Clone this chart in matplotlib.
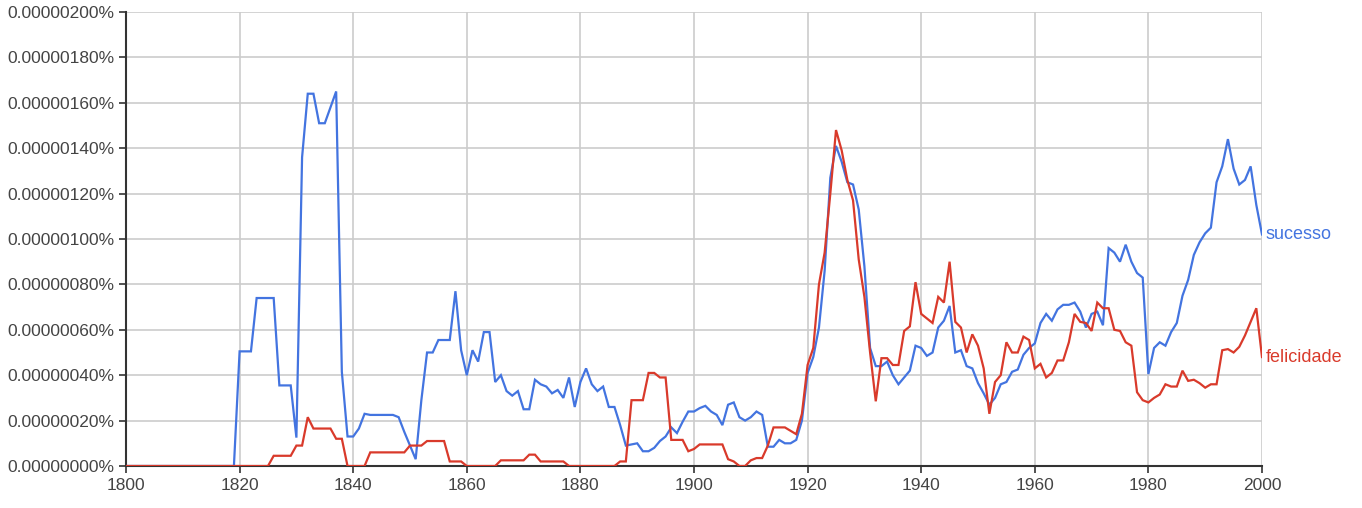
import numpy as np
import matplotlib
matplotlib.use("Agg")
import matplotlib.pyplot as plt
from matplotlib.ticker import FuncFormatter, MultipleLocator

plt.rcParams['font.family'] = ['Liberation Sans', 'DejaVu Sans']

# values in units of 1e-8 % (so 20 -> 0.00000020%)
years = list(range(1800, 2001))

sucesso = (
    [0] * 20 +                                                         # 1800-1819
    [50.5, 50.5, 50.5, 74, 74, 74, 74, 35.5, 35.5, 35.5] +             # 1820s
    [12.5, 136, 164, 164, 151, 151, 158, 165, 41.5, 13] +              # 1830s
    [13, 16.5, 23, 22.5, 22.5, 22.5, 22.5, 22.5, 21.5, 15] +           # 1840s
    [9, 3, 29, 50, 50, 55.5, 55.5, 55.5, 77, 51] +                     # 1850s
    [40, 51, 46, 59, 59, 37, 40, 33, 31, 33] +                         # 1860s
    [25, 25, 38, 36, 35, 32, 33.5, 30, 39, 26] +                       # 1870s
    [37, 43, 36, 33, 35, 26, 26, 18, 9, 9.5] +                         # 1880s
    [10, 6.5, 6.5, 8, 11, 13, 17, 14.5, 19.5, 24] +                    # 1890s
    [24, 25.5, 26.5, 24, 22.5, 18, 27, 28, 21.5, 20] +                 # 1900s
    [21.5, 24, 22.5, 8.5, 8.5, 11.5, 10, 10, 11.5, 20] +               # 1910s
    [41, 48, 61, 86, 127, 141, 134, 125, 124, 113] +                   # 1920s
    [88, 52, 44, 44, 46, 40, 36, 39, 42, 53] +                         # 1930s
    [52, 48.5, 50, 61, 64, 70.5, 50, 51, 44, 43] +                     # 1940s
    [36.5, 32, 27, 30, 36, 37, 41.5, 42.5, 49, 52] +                   # 1950s
    [54, 63, 67, 64, 69, 71, 71, 72, 68, 61] +                         # 1960s
    [67, 68, 62, 96, 94, 90, 97.5, 90, 85, 83] +                       # 1970s
    [40.5, 52, 54.5, 53, 59, 63, 75, 82, 93, 98.5] +                   # 1980s
    [102.5, 105, 125, 132, 144, 131, 124, 126, 132, 115] +             # 1990s
    [102]                                                              # 2000
)

felicidade = (
    [0] * 26 +                                                         # 1800-1825
    [4.5, 4.5, 4.5, 4.5] +                                             # 1826-1829
    [9, 9, 21.5, 16.5, 16.5, 16.5, 16.5, 12, 12, 0] +                  # 1830s
    [0, 0, 0, 6, 6, 6, 6, 6, 6, 6] +                                   # 1840s
    [9, 9, 9, 11, 11, 11, 11, 2, 2, 2] +                               # 1850s
    [0, 0, 0, 0, 0, 0, 2.5, 2.5, 2.5, 2.5] +                           # 1860s
    [2.5, 5, 5, 2, 2, 2, 2, 2, 0, 0] +                                 # 1870s
    [0, 0, 0, 0, 0, 0, 0, 2, 2, 29] +                                  # 1880s
    [29, 29, 41, 41, 39, 39, 11.5, 11.5, 11.5, 6.5] +                  # 1890s
    [7.5, 9.5, 9.5, 9.5, 9.5, 9.5, 3, 2, 0, 0] +                       # 1900s
    [2.5, 3.5, 3.5, 9, 17, 17, 17, 15.5, 14, 23] +                     # 1910s
    [44.5, 52, 80, 94, 120, 148, 139, 126, 117, 91] +                  # 1920s
    [74.5, 50, 28.5, 47.5, 47.5, 44.5, 44.5, 59.5, 61.5, 81] +         # 1930s
    [67, 65, 63, 74.5, 72, 90, 63.5, 61, 50, 58] +                     # 1940s
    [53, 43, 23, 37, 40, 54.5, 50, 50, 57, 55.5] +                     # 1950s
    [43, 45, 39, 41, 46.5, 46.5, 54.5, 67, 63.5, 63] +                 # 1960s
    [59.5, 72, 69.5, 69.5, 60, 59.5, 54.5, 53, 32.5, 29] +             # 1970s
    [28, 30, 31.5, 36, 35, 35, 42, 37.5, 38, 36.5] +                   # 1980s
    [34.5, 36, 36, 51, 51.5, 50, 52.5, 57.5, 63.5, 69.5] +             # 1990s
    [48]                                                               # 2000
)

series_names = ['sucesso', 'felicidade']
series_colors = ['#4374e0', '#d93a2b']

fig = plt.figure(figsize=(13.62, 5.08), dpi=100)
ax = fig.add_axes([126 / 1362, 42 / 508, 1136 / 1362, 454 / 508])

for name, vals, col in zip(series_names, [sucesso, felicidade], series_colors):
    ax.plot(years, vals, color=col, lw=1.6, solid_joinstyle='miter', zorder=3)
    ax.annotate(name, xy=(years[-1], vals[-1]), xytext=(2.5, 0),
                textcoords='offset points', color=col, fontsize=13,
                va='center', ha='left', annotation_clip=False)

ax.set_xlim(1800, 2000)
ax.set_ylim(0, 200)
ax.xaxis.set_major_locator(MultipleLocator(20))
ax.yaxis.set_major_locator(MultipleLocator(20))
ax.yaxis.set_major_formatter(FuncFormatter(lambda v, p: f"{v * 1e-8:.8f}%"))

ax.grid(True, color='#cccccc', lw=1.2, zorder=0)
ax.set_axisbelow(True)
for side in ['top', 'right']:
    ax.spines[side].set_visible(False)
for side in ['left', 'bottom']:
    ax.spines[side].set_color('#333333')
    ax.spines[side].set_linewidth(1.5)
ax.tick_params(axis='both', colors='#333333', labelcolor='#444444',
               labelsize=12.5, length=5, width=1.2)
ax.tick_params(axis='y', pad=3.5)

fig.savefig('out.png', dpi=100)
